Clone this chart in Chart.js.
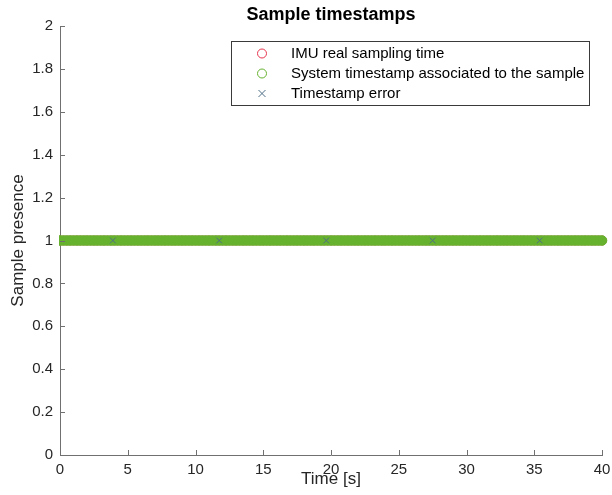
<!DOCTYPE html>
<html>
<head>
<meta charset="utf-8">
<script src="https://cdn.jsdelivr.net/npm/chart.js@4/dist/chart.umd.min.js"></script>
<style>
  html, body { margin: 0; padding: 0; background: #ffffff; }
  canvas { display: block; }
</style>
</head>
<body>
<canvas id="chart" width="612" height="495"></canvas>
<script>
// Sample times [s] of the acquired IMU samples
const sampleTimes = [
  0, 0.25, 0.5, 0.75, 1, 1.25, 1.5, 1.75, 2, 2.25, 2.5, 2.75, 3, 3.25, 3.5, 3.75,
  4, 4.25, 4.5, 4.75, 5, 5.25, 5.5, 5.75, 6, 6.25, 6.5, 6.75, 7, 7.25, 7.5, 7.75,
  8, 8.25, 8.5, 8.75, 9, 9.25, 9.5, 9.75, 10, 10.25, 10.5, 10.75, 11, 11.25, 11.5, 11.75,
  12, 12.25, 12.5, 12.75, 13, 13.25, 13.5, 13.75, 14, 14.25, 14.5, 14.75, 15, 15.25, 15.5, 15.75,
  16, 16.25, 16.5, 16.75, 17, 17.25, 17.5, 17.75, 18, 18.25, 18.5, 18.75, 19, 19.25, 19.5, 19.75,
  20, 20.25, 20.5, 20.75, 21, 21.25, 21.5, 21.75, 22, 22.25, 22.5, 22.75, 23, 23.25, 23.5, 23.75,
  24, 24.25, 24.5, 24.75, 25, 25.25, 25.5, 25.75, 26, 26.25, 26.5, 26.75, 27, 27.25, 27.5, 27.75,
  28, 28.25, 28.5, 28.75, 29, 29.25, 29.5, 29.75, 30, 30.25, 30.5, 30.75, 31, 31.25, 31.5, 31.75,
  32, 32.25, 32.5, 32.75, 33, 33.25, 33.5, 33.75, 34, 34.25, 34.5, 34.75, 35, 35.25, 35.5, 35.75,
  36, 36.25, 36.5, 36.75, 37, 37.25, 37.5, 37.75, 38, 38.25, 38.5, 38.75, 39, 39.25, 39.5, 39.75,
  40
];
// Sample presence flag (every sample is present)
const presence = 1;
// Times [s] where a timestamp error was detected
const errorTimes = [3.9, 11.75, 19.65, 27.5, 35.4];

const seriesLabels = [
  'IMU real sampling time',
  'System timestamp associated to the sample',
  'Timestamp error'
];
const xTicks = [0, 5, 10, 15, 20, 25, 30, 35, 40];
const yTicks = [0, 0.2, 0.4, 0.6, 0.8, 1, 1.2, 1.4, 1.6, 1.8, 2];

const FONT = '"Liberation Sans", Arial, Helvetica, sans-serif';
const AXIS_COLOR = '#707070';
const TEXT_COLOR = '#262626';
const MARKER_CLIP = { left: 1, right: 8, top: 8, bottom: 8 };

const toPoints = (xs) => xs.map(x => ({ x: x, y: presence }));

// Title, inward tick marks, x-axis title and in-plot legend
const decorations = {
  id: 'decorations',
  afterDraw(chart) {
    const ctx = chart.ctx;
    const area = chart.chartArea;
    const xs = chart.scales.x, ys = chart.scales.y;
    ctx.save();
    ctx.strokeStyle = AXIS_COLOR;
    ctx.lineWidth = 1;
    ctx.beginPath();
    xTicks.forEach(v => {
      const px = Math.round(xs.getPixelForValue(v)) + 0.5;
      ctx.moveTo(px, area.bottom);
      ctx.lineTo(px, area.bottom - 5);
    });
    yTicks.forEach(v => {
      const py = Math.round(ys.getPixelForValue(v)) + 0.5;
      ctx.moveTo(area.left, py);
      ctx.lineTo(area.left + 5, py);
    });
    ctx.stroke();

    const midX = (area.left + area.right) / 2;

    // chart title
    ctx.fillStyle = '#000000';
    ctx.font = 'bold 18px ' + FONT;
    ctx.textAlign = 'center';
    ctx.textBaseline = 'middle';
    ctx.fillText('Sample timestamps', midX, 15);

    // x-axis title
    ctx.fillStyle = TEXT_COLOR;
    ctx.font = '17px ' + FONT;
    ctx.fillText('Time [s]', midX, area.bottom + 24);

    // legend
    const bx = 231.5, by = 41.5, bw = 358, bh = 64;
    ctx.fillStyle = '#ffffff';
    ctx.fillRect(bx, by, bw, bh);
    ctx.strokeStyle = '#3a3a3a';
    ctx.strokeRect(bx, by, bw, bh);
    chart.data.datasets.forEach((ds, i) => {
      const cy = by + 12 + i * 20;
      const cx = 262;
      ctx.strokeStyle = ds.borderColor;
      ctx.lineWidth = 1;
      ctx.beginPath();
      if (ds.pointStyle === 'crossRot') {
        ctx.moveTo(cx - 3.5, cy - 3.5); ctx.lineTo(cx + 3.5, cy + 3.5);
        ctx.moveTo(cx + 3.5, cy - 3.5); ctx.lineTo(cx - 3.5, cy + 3.5);
      } else {
        ctx.arc(cx, cy, 4.5, 0, Math.PI * 2);
      }
      ctx.stroke();
      ctx.fillStyle = '#000000';
      ctx.font = '15px ' + FONT;
      ctx.textAlign = 'left';
      ctx.textBaseline = 'middle';
      ctx.fillText(ds.label, 291, cy);
    });
    ctx.restore();
  }
};

new Chart(document.getElementById('chart'), {
  type: 'scatter',
  data: {
    datasets: [
      {
        label: seriesLabels[0],
        data: toPoints(sampleTimes),
        pointStyle: 'circle',
        pointRadius: 4.5,
        borderWidth: 1,
        borderColor: '#e8354f',
        backgroundColor: 'rgba(0,0,0,0)',
        clip: MARKER_CLIP,
        order: 3
      },
      {
        label: seriesLabels[1],
        data: toPoints(sampleTimes),
        pointStyle: 'circle',
        pointRadius: 4.8,
        borderWidth: 1,
        borderColor: '#66b22f',
        backgroundColor: '#66b22f',
        clip: MARKER_CLIP,
        order: 2
      },
      {
        label: seriesLabels[2],
        data: toPoints(errorTimes),
        pointStyle: 'crossRot',
        pointRadius: 4,
        borderWidth: 1,
        borderColor: '#4f6f86',
        backgroundColor: '#4f6f86',
        clip: MARKER_CLIP,
        order: 1
      }
    ]
  },
  options: {
    responsive: false,
    animation: false,
    events: [],
    layout: { padding: { top: 26, right: 10, left: 0, bottom: 0 } },
    plugins: {
      legend: { display: false },
      tooltip: { enabled: false },
      title: { display: false }
    },
    scales: {
      x: {
        type: 'linear',
        min: 0, max: 40,
        afterFit(scale) {
          scale.height = 40;
          scale.paddingLeft = 0;
          scale.paddingRight = 0;
        },
        afterBuildTicks(scale) { scale.ticks = xTicks.map(v => ({ value: v })); },
        grid: { display: true, drawOnChartArea: false, drawTicks: false },
        border: { display: true, color: AXIS_COLOR, width: 1 },
        ticks: {
          color: TEXT_COLOR,
          font: { family: FONT, size: 15 },
          padding: 6,
          maxRotation: 0,
          callback: v => String(v)
        }
      },
      y: {
        type: 'linear',
        min: 0, max: 2,
        afterFit(scale) {
          scale.width = 60;
          scale.paddingTop = 0;
          scale.paddingBottom = 0;
        },
        afterBuildTicks(scale) { scale.ticks = yTicks.map(v => ({ value: v })); },
        grid: { display: true, drawOnChartArea: false, drawTicks: false },
        border: { display: true, color: AXIS_COLOR, width: 1 },
        ticks: {
          color: TEXT_COLOR,
          font: { family: FONT, size: 15 },
          padding: 7,
          callback: v => String(Number(v.toFixed(1)))
        },
        title: {
          display: true,
          text: 'Sample presence',
          color: TEXT_COLOR,
          font: { family: FONT, size: 17 },
          padding: { top: 8, bottom: 4 }
        }
      }
    }
  },
  plugins: [decorations]
});
</script>
</body>
</html>
